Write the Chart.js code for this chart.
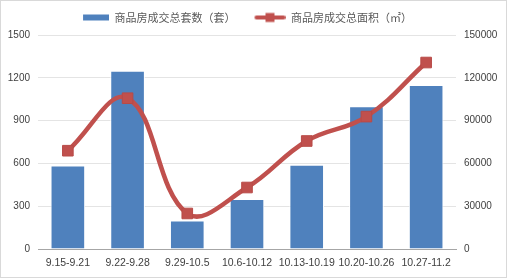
<!DOCTYPE html>
<html>
<head>
<meta charset="utf-8">
<script src="https://cdn.jsdelivr.net/npm/chart.js@4.4.0/dist/chart.umd.min.js"></script>
<style>
  html, body { margin: 0; padding: 0; background: #fff; }
  #wrap { width: 505px; height: 276px; border: 1px solid #d9d9d9; position: relative; }
</style>
</head>
<body>
<div id="wrap"><canvas id="chart"></canvas></div>
<script>
// weekly sales data
const weeks = ['9.15-9.21', '9.22-9.28', '9.29-10.5', '10.6-10.12', '10.13-10.19', '10.20-10.26', '10.27-11.2'];
const units = [586, 1250, 200, 350, 590, 1000, 1150];
const area = [68900, 105700, 24900, 43100, 75700, 92800, 130700];
const unitTicks = [0, 300, 600, 900, 1200, 1500];
const areaTicks = [0, 30000, 60000, 90000, 120000, 150000];

const BLUE = '#4F81BD';
const RED = '#C0504D';

// legend swatches
function makeSwatch(kind) {
    const c = document.createElement('canvas');
    c.width = 36;
    c.height = 12;
    const g = c.getContext('2d');
    if (kind === 'bar') {
        g.fillStyle = BLUE;
        g.fillRect(10, 3, 26, 6);
    } else {
        g.strokeStyle = RED;
        g.lineWidth = 4;
        g.lineCap = 'round';
        g.beginPath();
        g.moveTo(7, 6);
        g.lineTo(34, 6);
        g.stroke();
        g.fillStyle = RED;
        g.fillRect(16, 1.5, 9, 9);
    }
    return c;
}
const swatches = [makeSwatch('bar'), makeSwatch('line')];

const ctx = document.getElementById('chart').getContext('2d');
new Chart(ctx, {
    data: {
        labels: weeks,
        datasets: [{
            type: 'bar',
            label: '商品房成交总套数（套）',
            data: units,
            backgroundColor: BLUE,
            borderColor: '#ffffff',
            borderWidth: 1,
            barPercentage: 0.58,
            categoryPercentage: 1,
            yAxisID: 'y',
            order: 2
        }, {
            type: 'line',
            label: '商品房成交总面积（㎡）',
            data: area,
            borderColor: RED,
            backgroundColor: RED,
            borderWidth: 4.5,
            tension: 0.4,
            pointStyle: 'rect',
            pointRadius: 7.5,
            pointBorderWidth: 1,
            pointBorderColor: '#b84a47',
            pointBackgroundColor: RED,
            yAxisID: 'y1',
            order: 1
        }]
    },
    options: {
        responsive: true,
        maintainAspectRatio: false,
        animation: false,
        layout: { padding: { left: 0, right: 0, top: 0, bottom: 0 } },
        plugins: {
            tooltip: { enabled: false },
            legend: {
                position: 'top',
                labels: {
                    usePointStyle: true,
                    pointStyleWidth: 36,
                    padding: 14,
                    color: '#595959',
                    font: { family: '"Noto Sans CJK SC", sans-serif', size: 11 },
                    sort: (a, b) => a.datasetIndex - b.datasetIndex,
                    generateLabels: function(chart) {
                        const items = Chart.defaults.plugins.legend.labels.generateLabels(chart);
                        items.forEach(it => { it.pointStyle = swatches[it.datasetIndex]; });
                        return items;
                    }
                }
            }
        },
        scales: {
            x: {
                grid: { display: false, drawTicks: false },
                border: { display: true, color: '#a6a6a6' },
                ticks: {
                    color: '#404040',
                    padding: 8,
                    maxRotation: 0,
                    autoSkip: false,
                    font: { family: '"Liberation Sans Narrow", "Liberation Sans", sans-serif', size: 10.5 }
                },
                afterFit: function(s) { s.height = 28; }
            },
            y: {
                position: 'left',
                min: 0,
                max: 1500,
                afterBuildTicks: function(s) { s.ticks = unitTicks.map(v => ({ value: v })); },
                grid: { color: '#e4e4e4', drawTicks: false },
                border: { display: false },
                ticks: {
                    color: '#404040',
                    padding: 8,
                    callback: v => String(v),
                    font: { family: '"Liberation Sans", sans-serif', size: 10 }
                },
                afterFit: function(s) { s.width = 37; }
            },
            y1: {
                position: 'right',
                min: 0,
                max: 150000,
                afterBuildTicks: function(s) { s.ticks = areaTicks.map(v => ({ value: v })); },
                grid: { display: false, drawTicks: false },
                border: { display: false },
                ticks: {
                    color: '#404040',
                    padding: 8,
                    callback: v => String(v),
                    font: { family: '"Liberation Sans", sans-serif', size: 10 }
                },
                afterFit: function(s) { s.width = 50; }
            }
        }
    },
    plugins: [{
        id: 'legendHeight',
        beforeInit(chart) {
            const legend = chart.legend;
            const fit = legend.fit;
            legend.fit = function() {
                fit.bind(legend)();
                this.height = 34;
            };
            // nudge the legend row to where the original sits
            const draw = legend.draw;
            legend.draw = function() {
                const c = chart.ctx;
                c.save();
                c.translate(-11, -3);
                draw.bind(legend)();
                c.restore();
            };
        }
    }]
});
</script>
</body>
</html>
